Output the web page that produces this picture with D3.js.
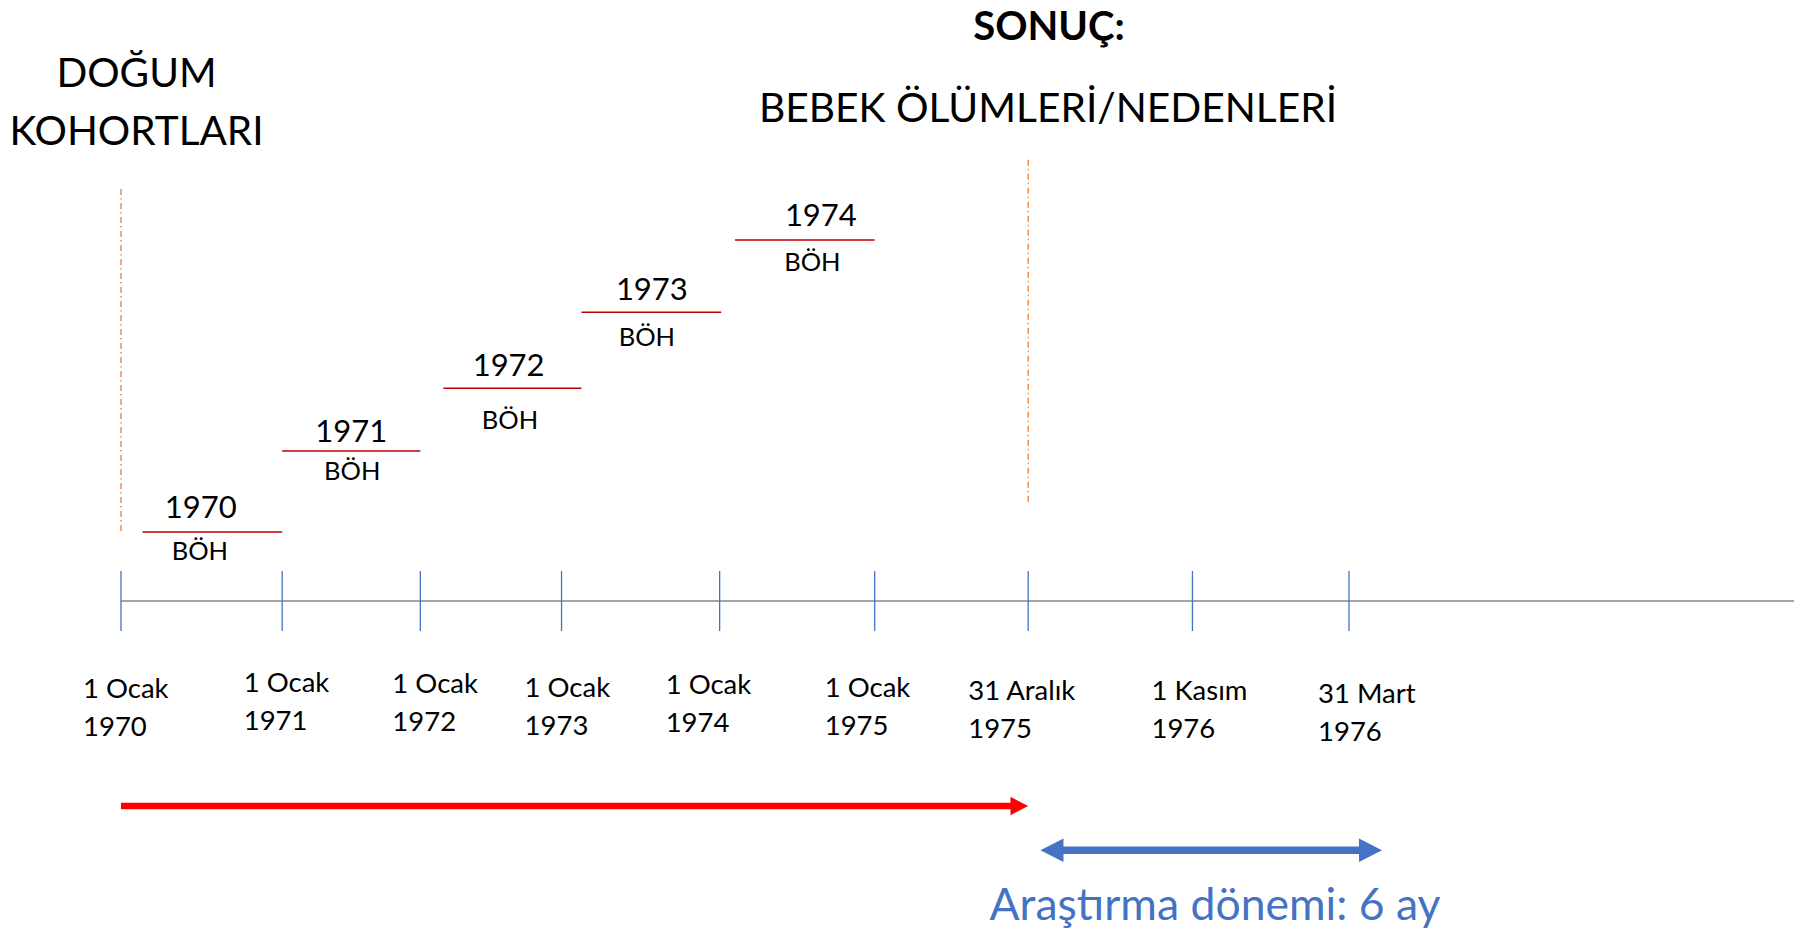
<!DOCTYPE html>
<html>
<head>
<meta charset="utf-8">
<script src="https://cdn.jsdelivr.net/npm/d3@7"></script>
<style>
  html, body { margin: 0; padding: 0; background: #ffffff; }
  svg { display: block; font-family: Lato, "Open Sans", sans-serif; }
</style>
</head>
<body>
<svg id="chart" width="1794" height="928"></svg>
<script>
// ---------- data ----------
const tickDates   = ["1 Ocak 1970", "1 Ocak 1971", "1 Ocak 1972", "1 Ocak 1973", "1 Ocak 1974",
                     "1 Ocak 1975", "31 Aralık 1975", "1 Kasım 1976", "31 Mart 1976"];
const tickLine1   = ["1 Ocak", "1 Ocak", "1 Ocak", "1 Ocak", "1 Ocak", "1 Ocak", "31 Aralık", "1 Kasım", "31 Mart"];
const tickLine2   = ["1970", "1971", "1972", "1973", "1974", "1975", "1975", "1976", "1976"];
const tickSlots   = [0, 1.05, 1.95, 2.87, 3.9, 4.91, 5.91, 6.98, 8];   // position on the timeline (slot units)

const cohortYears = ["1970", "1971", "1972", "1973", "1974"];
const cohortStart = [0.14, 1.05, 2.10, 3.00, 4.00];
const cohortEnd   = [1.05, 1.95, 3.00, 3.91, 4.91];
const cohortLevel = [0, 1.11, 1.97, 3.01, 4.0];
const cohortSub   = "BÖH";

const refLines    = [ { slot: 0,    from: 0,   to: 4.7 },
                      { slot: 5.91, from: 0.4, to: 5.1 } ];

const exposure    = { from: 0,    to: 5.91 };   // red arrow
const studyPeriod = { from: 5.99, to: 8.215 };  // blue double arrow

const titleLeft   = ["DOĞUM", "KOHORTLARI"];
const titleRight1 = "SONUÇ:";
const titleRight2 = "BEBEK ÖLÜMLERİ/NEDENLERİ";
const studyLabel  = "Araştırma dönemi: 6 ay";

// ---------- layout (positions / styles) ----------
const W = 1794, H = 928;
const axisY = 601;
const labelOffsets = [ [-38, 0], [-38.5, -6.5], [-28, -5], [-37, -1.5], [-54, -4],
                       [-50, -1], [-60, 1.5], [-41, 1.5], [-31, 5] ];
const yearOffsets  = [ [-11.5, -14], [0, -9.3], [-3.8, -12.6], [0.5, -12], [16, -14] ];
const subOffsets   = [ [-12.5, 28], [1, 29], [-2.5, 40.7], [-4.5, 34], [7.5, 31] ];

const svg = d3.select("#chart");

const x = d3.scaleLinear().domain([0, 8]).range([121, 1349]);
const y = d3.scaleLinear().domain([0, 4]).range([532, 240]);

const BLUE = "#4472C4";

// ---------- titles ----------
svg.append("g").selectAll("text").data(titleLeft).join("text")
  .attr("x", 136.5).attr("y", (d, i) => 86.7 + i * 58)
  .attr("text-anchor", "middle").attr("font-size", 40.5).attr("fill", "#000")
  .text(d => d);

svg.append("text").attr("x", 1049).attr("y", 39.5)
  .attr("text-anchor", "middle").attr("font-size", 40).attr("font-weight", 700)
  .attr("fill", "#000").text(titleRight1);

svg.append("text").attr("x", 1048).attr("y", 121.5)
  .attr("text-anchor", "middle").attr("font-size", 40.7).attr("fill", "#000")
  .text(titleRight2);

// ---------- reference dash-dot lines ----------
svg.append("g").selectAll("line").data(refLines).join("line")
  .attr("x1", d => x(d.slot)).attr("x2", d => x(d.slot))
  .attr("y1", d => y(d.to)).attr("y2", d => y(d.from))
  .attr("stroke", "#ED7D31").attr("stroke-width", 1.3)
  .attr("stroke-dasharray", "6,3,1.5,3.5");

// ---------- timeline axis ----------
svg.append("line")
  .attr("x1", x(0)).attr("x2", W).attr("y1", axisY).attr("y2", axisY)
  .attr("stroke", "#A5A5A5").attr("stroke-width", 2.2);

svg.append("g").selectAll("line").data(tickSlots).join("line")
  .attr("x1", d => x(d)).attr("x2", d => x(d))
  .attr("y1", axisY - 30).attr("y2", axisY + 30)
  .attr("stroke", BLUE).attr("stroke-width", 1.3);

const lab = svg.append("g").selectAll("text").data(tickSlots).join("text")
  .attr("font-size", 27.5).attr("fill", "#000")
  .attr("transform", (d, i) => `translate(${x(d) + labelOffsets[i][0]},${698.3 + labelOffsets[i][1]})`);
lab.append("tspan").attr("x", 0).attr("y", 0).text((d, i) => tickLine1[i]);
lab.append("tspan").attr("x", 0).attr("y", 38).text((d, i) => tickLine2[i]);

// ---------- cohorts ----------
const coh = svg.append("g").selectAll("g").data(cohortYears).join("g");
coh.append("line")
  .attr("x1", (d, i) => x(cohortStart[i])).attr("x2", (d, i) => x(cohortEnd[i]))
  .attr("y1", (d, i) => y(cohortLevel[i])).attr("y2", (d, i) => y(cohortLevel[i]))
  .attr("stroke", "#C00000").attr("stroke-width", 1.5);
coh.append("text")
  .attr("x", (d, i) => (x(cohortStart[i]) + x(cohortEnd[i])) / 2 + yearOffsets[i][0])
  .attr("y", (d, i) => y(cohortLevel[i]) + yearOffsets[i][1])
  .attr("text-anchor", "middle").attr("font-size", 31).attr("fill", "#000")
  .text(d => d);
coh.append("text")
  .attr("x", (d, i) => (x(cohortStart[i]) + x(cohortEnd[i])) / 2 + subOffsets[i][0])
  .attr("y", (d, i) => y(cohortLevel[i]) + subOffsets[i][1])
  .attr("text-anchor", "middle").attr("font-size", 25.5).attr("fill", "#000")
  .text(cohortSub);

// ---------- arrows ----------
function arrowPath(x0, x1, cy, shaft, headLen, headH, both) {
  const s = shaft / 2, h = headH / 2;
  const p = [];
  if (both) {
    p.push([x0, cy], [x0 + headLen, cy - h], [x0 + headLen, cy - s]);
  } else {
    p.push([x0, cy - s]);
  }
  p.push([x1 - headLen, cy - s], [x1 - headLen, cy - h], [x1, cy], [x1 - headLen, cy + h], [x1 - headLen, cy + s]);
  if (both) {
    p.push([x0 + headLen, cy + s], [x0 + headLen, cy + h]);
  } else {
    p.push([x0, cy + s]);
  }
  return d3.line()(p) + "Z";
}

svg.append("path")
  .attr("d", arrowPath(x(exposure.from), x(exposure.to), 806, 6.6, 17.7, 18.3, false))
  .attr("fill", "#FF0000");

svg.append("path")
  .attr("d", arrowPath(x(studyPeriod.from), x(studyPeriod.to), 850.3, 7.5, 23, 23.5, true))
  .attr("fill", BLUE);

svg.append("text").attr("x", 1215).attr("y", 920)
  .attr("text-anchor", "middle").attr("font-size", 44.5).attr("fill", BLUE)
  .text(studyLabel);
</script>
</body>
</html>
